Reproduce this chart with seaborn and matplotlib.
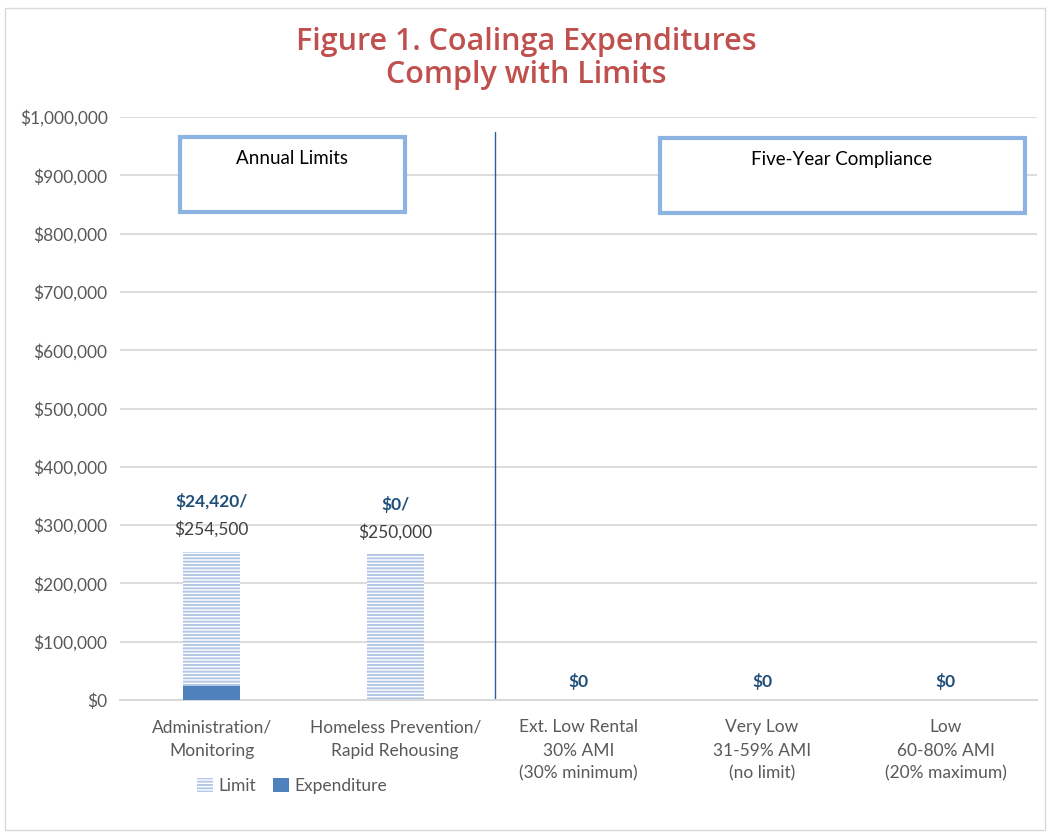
import matplotlib
matplotlib.use("Agg")
import matplotlib.pyplot as plt
from matplotlib.patches import Rectangle, Patch
from matplotlib.ticker import FuncFormatter
import seaborn as sns
import pandas as pd

# chart data
categories = ["Administration/\nMonitoring", "Homeless Prevention/\nRapid Rehousing",
              "Ext. Low Rental\n30% AMI\n(30% minimum)", "Very Low\n31-59% AMI\n(no limit)",
              "Low\n60-80% AMI\n(20% maximum)"]
limits = [254500, 250000, 0, 0, 0]
expenditures = [24420, 0, 0, 0, 0]
has_limit = [True, True, False, False, False]

title = "Figure 1. Coalinga Expenditures\nComply with Limits"
limit_color = "#b4c7e7"
exp_color = "#4f81bd"
label_blue = "#1f4e79"
gray = "#595959"

sns.set_style("white")
plt.rcParams["font.family"] = ["Lato", "DejaVu Sans"]
plt.rcParams["hatch.linewidth"] = 1.4

df = pd.DataFrame({"category": categories, "limit": limits, "expenditure": expenditures})

fig = plt.figure(figsize=(10.53, 8.32), dpi=100)
ax = fig.add_axes([0.114, 0.1587, 0.871, 0.7006])

sns.barplot(data=df, x="category", y="limit", width=0.31, color="white", ax=ax)
n_lim = len(ax.patches)
sns.barplot(data=df, x="category", y="expenditure", width=0.31, color=exp_color, saturation=1, ax=ax)

for p in ax.patches[:n_lim]:
    p.set_facecolor("white")
    p.set_edgecolor(limit_color)
    p.set_hatch("-----")
    p.set_linewidth(0)
for p in ax.patches[n_lim:]:
    p.set_linewidth(0)
    p.set_zorder(3)

ax.set_ylim(0, 1000000)
ax.set_xlim(-0.5, len(categories) - 0.5)
ax.yaxis.set_major_formatter(FuncFormatter(lambda v, _: f"${v:,.0f}"))
ax.set_yticks(range(0, 1000001, 100000))
ax.grid(axis="y", color="#d9d9d9", linewidth=1.3)
ax.set_axisbelow(True)
for s in ["top", "right", "left"]:
    ax.spines[s].set_visible(False)
ax.spines["bottom"].set_color("#d9d9d9")
ax.spines["bottom"].set_linewidth(1.5)
ax.tick_params(axis="both", length=0, colors=gray, labelsize=12.5)
ax.tick_params(axis="y", pad=9)
ax.tick_params(axis="x", pad=14)
for t in ax.get_xticklabels():
    t.set_linespacing(1.55)
ax.set_xlabel("")
ax.set_ylabel("")

# value labels
for i, (lim, exp) in enumerate(zip(limits, expenditures)):
    if has_limit[i]:
        ax.annotate(f"${lim:,.0f}", (i, lim), xytext=(0, 10), textcoords="offset points",
                    ha="center", va="bottom", fontsize=12.5, color="#404040")
        ax.annotate(f"${exp:,.0f}/", (i, lim), xytext=(0, 30), textcoords="offset points",
                    ha="center", va="bottom", fontsize=12.5, color=label_blue, fontweight="bold")
    else:
        ax.annotate(f"${exp:,.0f}", (i, exp), xytext=(0, 7), textcoords="offset points",
                    ha="center", va="bottom", fontsize=12.5, color=label_blue, fontweight="bold")

# separator between annual and five-year groups
ax.plot([1.545, 1.545], [0, 975000], color="#2e5c9a", linewidth=1, zorder=2)

# group boxes
fig.patches.append(Rectangle((180 / 1053, 1 - 212 / 832), 225 / 1053, 75 / 832,
                             transform=fig.transFigure, facecolor="white",
                             edgecolor="#8db3e2", linewidth=3, zorder=5))
fig.text(292 / 1053, 1 - 158 / 832, "Annual Limits", ha="center", va="center",
         fontsize=13.5, color="black", zorder=6)
fig.patches.append(Rectangle((660 / 1053, 1 - 213 / 832), 365 / 1053, 75 / 832,
                             transform=fig.transFigure, facecolor="white",
                             edgecolor="#8db3e2", linewidth=3, zorder=5))
fig.text(842 / 1053, 1 - 160 / 832, "Five-Year Compliance", ha="center", va="center",
         fontsize=13.5, color="black", zorder=6)

fig.suptitle(title, y=1 - 27 / 832, va="top", fontsize=22, fontweight="semibold",
             color="#c0504d", linespacing=1.15, family=["Open Sans", "DejaVu Sans"])

handles = [Patch(facecolor="white", edgecolor=limit_color, hatch="-----", linewidth=0, label="Limit"),
           Patch(facecolor=exp_color, linewidth=0, label="Expenditure")]
leg = fig.legend(handles=handles, loc="center", bbox_to_anchor=(292 / 1053, 1 - 786 / 832),
                 ncol=2, frameon=False, fontsize=12.5, handlelength=0.9, handleheight=0.9,
                 handletextpad=0.3, columnspacing=1.0)
for t in leg.get_texts():
    t.set_color(gray)

# outer chart border
fig.patches.append(Rectangle((5 / 1053, 2 / 832), 1040 / 1053, 822 / 832,
                             transform=fig.transFigure, fill=False,
                             edgecolor="#d9d9d9", linewidth=1))

fig.savefig("out.png", dpi=100)
